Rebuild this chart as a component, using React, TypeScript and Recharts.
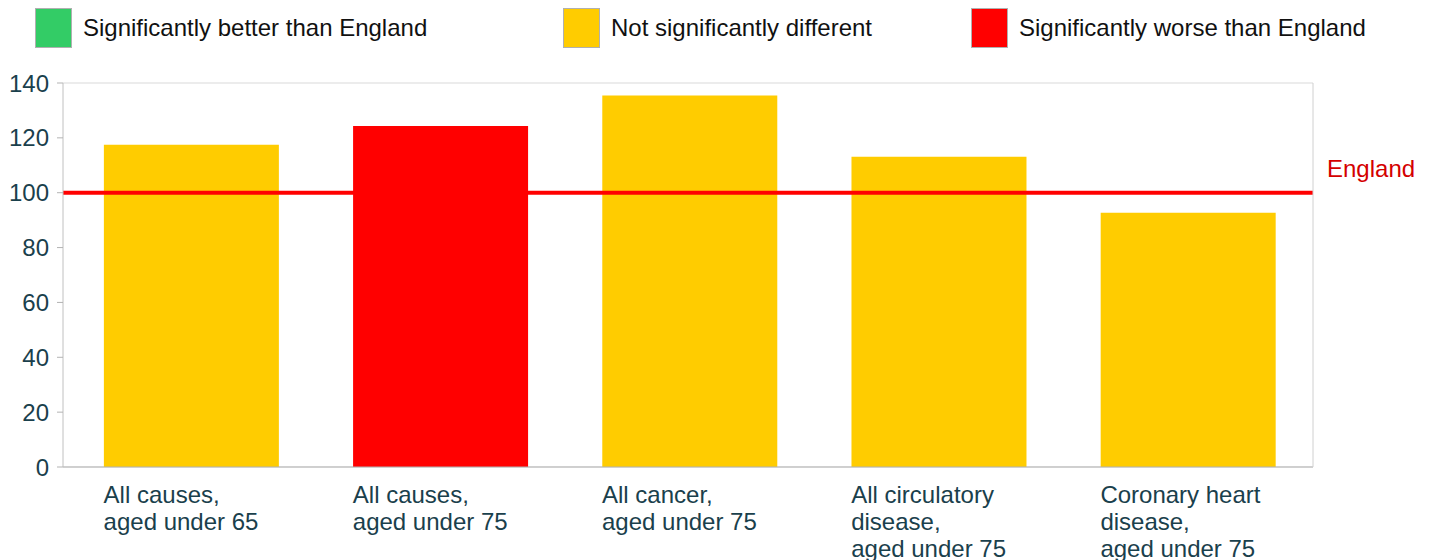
import React from "react";
import {
  ComposedChart,
  Bar,
  Cell,
  XAxis,
  YAxis,
  CartesianGrid,
  ReferenceLine,
} from "recharts";

const categories = [
  "All causes,\naged under 65",
  "All causes,\naged under 75",
  "All cancer,\naged under 75",
  "All circulatory\ndisease,\naged under 75",
  "Coronary heart\ndisease,\naged under 75",
];
const values = [117.5, 124.3, 135.4, 113.1, 92.7];
const significance = ["similar", "worse", "similar", "similar", "similar"];
const yTicks = [0, 20, 40, 60, 80, 100, 120, 140];
const englandValue = 100;

const legendItems = [
  { key: "better", label: "Significantly better than England" },
  { key: "similar", label: "Not significantly different" },
  { key: "worse", label: "Significantly worse than England" },
];

const colors: Record<string, string> = {
  better: "#33cc66",
  similar: "#ffcc00",
  worse: "#ff0000",
};

const data = categories.map((name, i) => ({
  name,
  value: values[i],
  sig: significance[i],
}));

const FONT = "'Liberation Sans', Arial, sans-serif";
const TEXT = "#1a404c";

function CategoryTick(props: any) {
  const { x, y, payload } = props;
  const lines = String(payload.value).split("\n");
  return (
    <text x={x - 88} y={y + 28} fontSize={24} fontFamily={FONT} fill={TEXT}>
      {lines.map((l, i) => (
        <tspan key={i} x={x - 88} dy={i === 0 ? 0 : 27}>
          {l}
        </tspan>
      ))}
    </text>
  );
}

function EnglandLabel(props: any) {
  const { viewBox } = props;
  return (
    <text
      x={viewBox.x + viewBox.width + 14}
      y={viewBox.y - 16}
      fontSize={24}
      fontFamily={FONT}
      fill="#d40000"
    >
      England
    </text>
  );
}

const legendLeft = [35, 563, 971];

export default function App() {
  return (
    <div
      style={{
        position: "absolute",
        left: 0,
        top: 0,
        width: 1431,
        height: 560,
        background: "#fff",
        fontFamily: FONT,
      }}
    >
      {legendItems.map((item, i) => (
        <div
          key={item.key}
          style={{
            position: "absolute",
            left: legendLeft[i],
            top: 8,
            display: "flex",
            alignItems: "center",
            height: 39,
          }}
        >
          <div
            style={{
              width: 35,
              height: 38,
              background: colors[item.key],
              border: "1px solid #b0b0b0",
            }}
          />
          <span style={{ marginLeft: 11, fontSize: 24, color: "#111" }}>
            {item.label}
          </span>
        </div>
      ))}
      <ComposedChart
        width={1431}
        height={560}
        data={data}
        margin={{ top: 83, right: 0, left: 0, bottom: 0 }}
        barCategoryGap="14.8%"
      >
        <CartesianGrid vertical={false} stroke="#d9d9d9" />
        <XAxis
          dataKey="name"
          height={93}
          tickLine={false}
          axisLine={{ stroke: "#b3b3b3" }}
          tick={<CategoryTick />}
          interval={0}
          padding={{ left: 4, right: 0 }}
        />
        <YAxis
          yAxisId="left"
          width={63}
          domain={[0, 140]}
          ticks={yTicks}
          tickSize={6}
          tickMargin={8}
          axisLine={{ stroke: "#c0c0c0" }}
          tickLine={{ stroke: "#b3b3b3" }}
          tick={{ fontSize: 24, fill: TEXT, fontFamily: FONT }}
        />
        <YAxis
          yAxisId="right"
          orientation="right"
          width={118}
          domain={[0, 140]}
          ticks={yTicks}
          tick={false}
          tickLine={false}
          axisLine={{ stroke: "#d0d0d0" }}
        />
        <Bar yAxisId="left" dataKey="value" isAnimationActive={false}>
          {data.map((d, i) => (
            <Cell key={i} fill={colors[d.sig]} />
          ))}
        </Bar>
        <ReferenceLine
          yAxisId="left"
          y={englandValue}
          stroke="#ff0000"
          strokeWidth={4}
          label={<EnglandLabel />}
        />
      </ComposedChart>
    </div>
  );
}
